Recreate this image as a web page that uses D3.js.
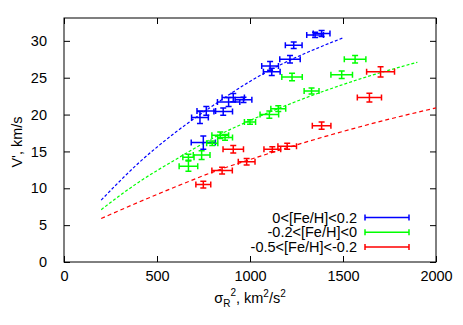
<!DOCTYPE html>
<html>
<head>
<meta charset="utf-8">
<script src="https://cdn.jsdelivr.net/npm/d3@7"></script>
<style>
    body { margin: 0; background: #fff; }
    svg text { font-family: "Liberation Sans", Arial, sans-serif; }
</style>
</head>
<body>
<div id="chart"></div>
<script>
// x = sigma_R^2, y = V', xe / ye = error half-widths
let blueX = [1350, 1385, 1235, 1215, 1108, 1117, 910, 885, 965, 856, 765, 731, 749];
let blueY = [30.8, 31.0, 29.4, 27.5, 26.6, 25.8, 22.3, 21.7, 22.0, 20.4, 20.5, 19.6, 16.2];
let blueXe = [45, 45, 45, 55, 45, 45, 60, 60, 45, 50, 50, 45, 65];
let blueYe = [0.35, 0.4, 0.45, 0.5, 0.6, 0.5, 0.55, 0.6, 0.35, 0.5, 0.6, 0.8, 0.9];

let greenX = [1565, 1493, 1226, 1331, 1152, 1104, 1000, 840, 866, 797, 740, 669, 669];
let greenY = [27.5, 25.4, 25.1, 23.2, 20.8, 20.0, 19.0, 17.2, 16.9, 16.1, 14.5, 14.2, 13.0];
let greenXe = [58, 58, 55, 40, 40, 50, 30, 45, 40, 30, 45, 30, 50];
let greenYe = [0.5, 0.5, 0.5, 0.4, 0.4, 0.5, 0.3, 0.45, 0.4, 0.3, 0.6, 0.4, 0.7];

let redX = [1702, 1642, 1385, 1200, 1120, 910, 982, 850, 749];
let redY = [25.8, 22.3, 18.5, 15.7, 15.3, 15.3, 13.6, 12.4, 10.5];
let redXe = [75, 65, 50, 50, 45, 55, 45, 55, 40];
let redYe = [0.7, 0.6, 0.5, 0.4, 0.35, 0.5, 0.45, 0.45, 0.45];

// dashed fit curves
let blueFitX = [200, 400, 600, 800, 1000, 1200, 1400, 1500];
let blueFitY = [8.4, 13.4, 17.6, 21.2, 24.5, 27.2, 29.4, 30.4];
let greenFitX = [200, 400, 600, 800, 1000, 1200, 1400, 1600, 1800, 1900];
let greenFitY = [7.1, 10.8, 13.9, 16.8, 19.2, 21.3, 23.2, 24.9, 26.4, 27.1];
let redFitX = [200, 400, 600, 800, 1000, 1200, 1400, 1600, 1800, 2000];
let redFitY = [5.9, 8.1, 10.2, 12.2, 13.9, 15.5, 17.0, 18.4, 19.7, 20.9];

let xTicks = [0, 500, 1000, 1500, 2000];
let yTicks = [0, 5, 10, 15, 20, 25, 30];
let legendLabels = ["0<[Fe/H]<0.2", "-0.2<[Fe/H]<0", "-0.5<[Fe/H]<-0.2"];

let width = 463;
let height = 325;
let margins = { top: 18, right: 27, bot: 63, left: 64 };
let chartWidth = width - margins.left - margins.right;
let chartHeight = height - margins.top - margins.bot;

let svg = d3.select("#chart")
    .append("svg")
    .attr("width", width)
    .attr("height", height);
let g = svg.append("g")
    .attr("transform", "translate(" + margins.left + "," + margins.top + ")");

let xScale = d3.scaleLinear().domain([0, 2000]).range([0, chartWidth]);
let yScale = d3.scaleLinear().domain([0, 33.1]).range([chartHeight, 0]);

function styleAxis(ax) {
    ax.select(".domain").remove();
    ax.selectAll("text").style("font-size", "14.5px").attr("fill", "#000");
    ax.selectAll("line").attr("stroke", "#000");
}

g.append("g")
    .attr("transform", "translate(0," + chartHeight + ")")
    .call(d3.axisBottom(xScale).tickValues(xTicks).tickSize(-6).tickPadding(9).tickFormat(d3.format("d")))
    .call(styleAxis);
g.append("g")
    .call(d3.axisTop(xScale).tickValues(xTicks).tickSize(-6).tickFormat(""))
    .call(styleAxis);
g.append("g")
    .call(d3.axisLeft(yScale).tickValues(yTicks).tickSize(-6).tickPadding(17))
    .call(styleAxis);
g.append("g")
    .attr("transform", "translate(" + chartWidth + ",0)")
    .call(d3.axisRight(yScale).tickValues(yTicks).tickSize(-6).tickFormat(""))
    .call(styleAxis);

g.append("rect")
    .attr("width", chartWidth)
    .attr("height", chartHeight)
    .attr("fill", "none")
    .attr("stroke", "#000")
    .attr("stroke-width", 1);

// axis titles
let xLabel = svg.append("text")
    .attr("x", 250)
    .attr("y", 303)
    .attr("text-anchor", "middle")
    .style("font-size", "14.5px");
xLabel.append("tspan").text("\u03c3");
xLabel.append("tspan").attr("dy", 4).style("font-size", "10px").text("R");
xLabel.append("tspan").attr("dy", -11).style("font-size", "10px").text("2");
xLabel.append("tspan").attr("dy", 7).text(", km");
xLabel.append("tspan").attr("dy", -6).style("font-size", "10px").text("2");
xLabel.append("tspan").attr("dy", 6).text("/s");
xLabel.append("tspan").attr("dy", -6).style("font-size", "10px").text("2");

svg.append("text")
    .attr("transform", "translate(22,142) rotate(-90)")
    .attr("text-anchor", "middle")
    .style("font-size", "14.5px")
    .text("V', km/s");

// fits
let fits = [
    { xs: blueFitX, ys: blueFitY, color: "#0000ff", dash: "3,2" },
    { xs: greenFitX, ys: greenFitY, color: "#00ff00", dash: "3,2" },
    { xs: redFitX, ys: redFitY, color: "#ff0000", dash: "4,3" }
];
let fitLine = d3.line()
    .curve(d3.curveMonotoneX)
    .x(d => xScale(d[0]))
    .y(d => yScale(d[1]));
fits.forEach(function (f) {
    g.append("path")
        .datum(f.xs.map((x, i) => [x, f.ys[i]]))
        .attr("fill", "none")
        .attr("stroke", f.color)
        .attr("stroke-width", 1.2)
        .attr("stroke-dasharray", f.dash)
        .attr("d", fitLine);
});

// error bar crosses
let cap = 3;
function drawErrors(xs, ys, xe, ye, color) {
    let grp = g.append("g")
        .attr("stroke", color)
        .attr("stroke-width", 1.5)
        .attr("fill", "none");
    xs.forEach(function (x, i) {
        let cx = xScale(x), cy = yScale(ys[i]);
        let x0 = xScale(x - xe[i]), x1 = xScale(x + xe[i]);
        let y0 = yScale(ys[i] - ye[i]), y1 = yScale(ys[i] + ye[i]);
        grp.append("path")
            .attr("d",
                "M" + x0 + "," + cy + "H" + x1 +
                "M" + x0 + "," + (cy - cap) + "V" + (cy + cap) +
                "M" + x1 + "," + (cy - cap) + "V" + (cy + cap) +
                "M" + cx + "," + y0 + "V" + y1 +
                "M" + (cx - cap) + "," + y0 + "H" + (cx + cap) +
                "M" + (cx - cap) + "," + y1 + "H" + (cx + cap));
    });
}
drawErrors(blueX, blueY, blueXe, blueYe, "#0000ff");
drawErrors(greenX, greenY, greenXe, greenYe, "#00ff00");
drawErrors(redX, redY, redXe, redYe, "#ff0000");

// legend
let legendColors = ["#0000ff", "#00ff00", "#ff0000"];
legendLabels.forEach(function (lab, i) {
    let ly = 217.5 + i * 14.8;
    svg.append("text")
        .attr("x", 357)
        .attr("y", ly + 5)
        .attr("text-anchor", "end")
        .style("font-size", "14.5px")
        .text(lab);
    svg.append("path")
        .attr("d", "M365," + ly + "H409" +
            "M365," + (ly - cap) + "V" + (ly + cap) +
            "M409," + (ly - cap) + "V" + (ly + cap))
        .attr("stroke", legendColors[i])
        .attr("stroke-width", 1.5)
        .attr("fill", "none");
});
</script>
</body>
</html>
